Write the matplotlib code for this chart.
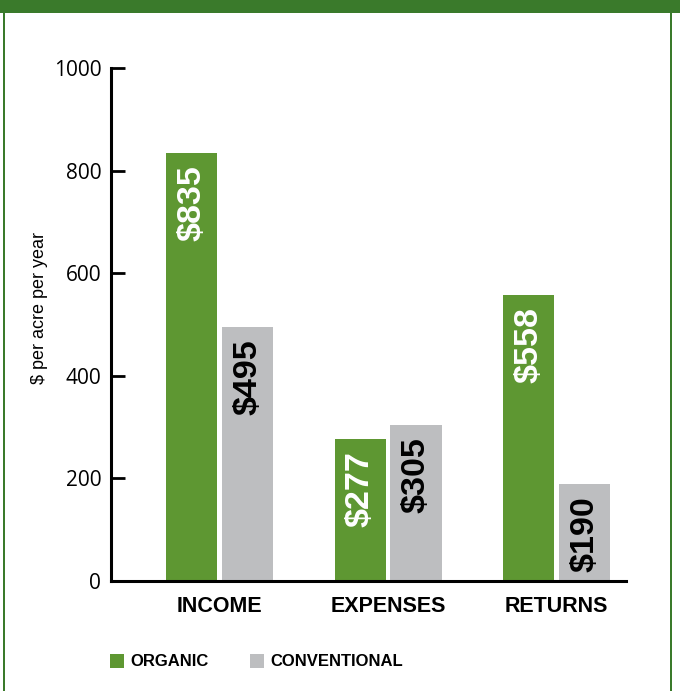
import matplotlib
matplotlib.use("Agg")
import matplotlib.pyplot as plt
import numpy as np
from matplotlib.patches import Rectangle

categories = ["INCOME", "EXPENSES", "RETURNS"]
organic = [835, 277, 558]
conventional = [495, 305, 190]
series_names = ["ORGANIC", "CONVENTIONAL"]
yticks = [0, 200, 400, 600, 800, 1000]

GREEN = "#5e9732"
GRAY = "#bdbec0"
FRAME = "#3a7a2b"

fig = plt.figure(figsize=(6.8, 6.91), dpi=100)
W, H = 680, 691

# frame
fig.patches.append(Rectangle((0, 1 - 12.5 / H), 1, 12.5 / H, transform=fig.transFigure,
                             facecolor=FRAME, edgecolor="none", zorder=0))
fig.patches.append(Rectangle((2.5 / W, 0), 2.2 / W, 1, transform=fig.transFigure,
                             facecolor=FRAME, edgecolor="none", zorder=0))
fig.patches.append(Rectangle((670 / W, 0), 2.2 / W, 1, transform=fig.transFigure,
                             facecolor=FRAME, edgecolor="none", zorder=0))

ax = fig.add_axes([111 / W, (H - 581) / H, (626 - 111) / W, (581 - 68) / H])
x = np.arange(len(categories))
bw = 0.303
off = 0.166
b1 = ax.bar(x - off, organic, bw, color=GREEN, zorder=2)
b2 = ax.bar(x + off, conventional, bw, color=GRAY, zorder=2)

for bars, vals, col in [(b1, organic, "white"), (b2, conventional, "black")]:
    for b, v in zip(bars, vals):
        ax.annotate(f"${v}", (b.get_x() + b.get_width() / 2, v), xytext=(0, -9),
                    textcoords="offset points", rotation=90, ha="center", va="top",
                    color=col, fontsize=24.5, fontweight="bold", family="Liberation Sans",
                    zorder=3)

ax.set_xlim(-0.644, 2.412)
ax.set_ylim(0, 1000)
ax.set_yticks(yticks)
ax.set_yticklabels([str(t) for t in yticks], family="Open Sans", fontsize=15)
ax.set_xticks(x)
ax.set_xticklabels(categories, family="Liberation Sans", fontweight="bold", fontsize=15.5)
ax.tick_params(axis="x", length=0, pad=11)
ax.tick_params(axis="y", direction="in", length=10, width=2, pad=7)
for s in ["top", "right"]:
    ax.spines[s].set_visible(False)
for s in ["left", "bottom"]:
    ax.spines[s].set_linewidth(2.2)
ax.set_facecolor("none")

fig.text(40 / W, (H - 308) / H, "$ per acre per year", rotation=90, ha="center",
         va="center", family="Liberation Sans", fontsize=13)

# legend
for (lx, tx, name, col) in [(110, 130, series_names[0], GREEN), (250, 270, series_names[1], GRAY)]:
    fig.patches.append(Rectangle((lx / W, (H - 668) / H), 14 / W, 14 / H,
                                 transform=fig.transFigure, facecolor=col, edgecolor="none"))
    fig.text(tx / W, (H - 661) / H, name, ha="left", va="center", family="Liberation Sans",
             fontweight="bold", fontsize=12)

fig.savefig("out.png", dpi=100)
